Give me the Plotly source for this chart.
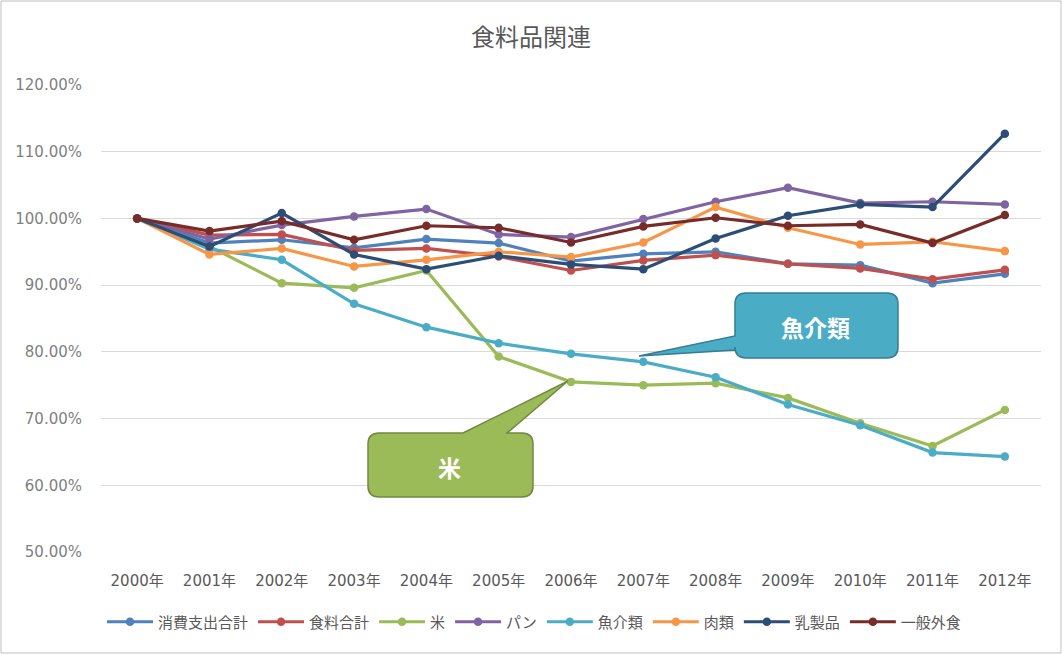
import plotly.graph_objects as go

years = ["2000年", "2001年", "2002年", "2003年", "2004年", "2005年", "2006年",
         "2007年", "2008年", "2009年", "2010年", "2011年", "2012年"]

shohi_total = [100, 96.3, 96.8, 95.6, 96.9, 96.3, 93.6, 94.7, 95.0, 93.2, 93.0, 90.3, 91.7]
food_total = [100, 97.5, 97.6, 95.2, 95.5, 94.3, 92.2, 93.7, 94.5, 93.2, 92.5, 90.9, 92.3]
rice = [100, 95.8, 90.3, 89.6, 92.2, 79.3, 75.5, 75.0, 75.3, 73.1, 69.3, 65.9, 71.3]
bread = [100, 96.9, 99.0, 100.3, 101.4, 97.6, 97.2, 99.9, 102.5, 104.6, 102.3, 102.5, 102.1]
fish = [100, 95.4, 93.8, 87.2, 83.7, 81.3, 79.7, 78.5, 76.2, 72.1, 69.0, 64.9, 64.3]
meat = [100, 94.6, 95.5, 92.8, 93.8, 95.0, 94.2, 96.4, 101.7, 98.6, 96.1, 96.5, 95.1]
dairy = [100, 95.8, 100.8, 94.6, 92.4, 94.4, 93.1, 92.4, 97.0, 100.4, 102.1, 101.7, 112.7]
eating_out = [100, 98.1, 99.6, 96.8, 98.9, 98.6, 96.4, 98.8, 100.1, 98.9, 99.1, 96.3, 100.5]

series_names = ["消費支出合計", "食料合計", "米", "パン", "魚介類", "肉類", "乳製品", "一般外食"]
series_values = [shohi_total, food_total, rice, bread, fish, meat, dairy, eating_out]
colors = ["#4F81BD", "#C0504D", "#9BBB59", "#8064A2", "#4BACC6", "#F79646", "#2C4D75", "#772C2A"]

FONT = "Noto Sans CJK JP"
TICKFONT = "DejaVu Sans, Noto Sans CJK JP"
W, H = 1062, 654
L, R, T, B = 101, 1041, 85, 552

fig = go.Figure()
for name, vals, col in zip(series_names, series_values, colors):
    fig.add_trace(go.Scatter(
        x=years, y=vals, name=name, mode="lines+markers",
        line=dict(color=col, width=3.2),
        marker=dict(color=col, size=8.5),
    ))


def px(x, y):
    return ((x - L) / (R - L), (B - y) / (B - T))


def P(x, y):
    a, b = px(x, y)
    return f"{a:.5f},{b:.5f}"


def rounded_callout(x0, y0, x1, y1, r, tail, side):
    s = "M" + P(x0 + r, y0)
    if side == "top":
        for t in tail:
            s += " L" + P(*t)
    s += " L" + P(x1 - r, y0) + " Q" + P(x1, y0) + " " + P(x1, y0 + r)
    s += " L" + P(x1, y1 - r) + " Q" + P(x1, y1) + " " + P(x1 - r, y1)
    s += " L" + P(x0 + r, y1) + " Q" + P(x0, y1) + " " + P(x0, y1 - r)
    if side == "left":
        for t in tail:
            s += " L" + P(*t)
    s += " L" + P(x0, y0 + r) + " Q" + P(x0, y0) + " " + P(x0 + r, y0) + " Z"
    return s


shapes = []
bx0, by0 = px(1, 1)
bx1, by1 = px(1061, 653)
shapes.append(dict(type="rect", xref="paper", yref="paper", x0=bx0, y0=by1, x1=bx1, y1=by0,
                   line=dict(color="#BFBFBF", width=1), fillcolor="rgba(0,0,0,0)", layer="below"))
shapes.append(dict(type="path", xref="paper", yref="paper",
                   path=rounded_callout(735, 293, 898, 358, 11,
                                        [(735, 350), (639, 356), (735, 336)], "left"),
                   fillcolor="#4BACC6", line=dict(color="#357D91", width=1.5)))
shapes.append(dict(type="path", xref="paper", yref="paper",
                   path=rounded_callout(368, 433, 533, 497, 11,
                                        [(463, 433), (568, 381), (507, 433)], "top"),
                   fillcolor="#9BBB59", line=dict(color="#71893F", width=1.5)))

annotations = []
fx, fy = px(815, 327)
annotations.append(dict(x=fx, y=fy, xref="paper", yref="paper", text="<b>魚介類</b>", showarrow=False,
                        xanchor="center", yanchor="middle",
                        font=dict(family=FONT, size=23, color="white")))
rx, ry = px(449, 467)
annotations.append(dict(x=rx, y=ry, xref="paper", yref="paper", text="<b>米</b>", showarrow=False,
                        xanchor="center", yanchor="middle",
                        font=dict(family=FONT, size=23, color="white")))

lx, ly = px(102, 622)

fig.update_layout(
    width=W, height=H,
    margin=dict(l=L, r=W - R, t=T, b=H - B),
    paper_bgcolor="white", plot_bgcolor="white",
    title=dict(text="食料品関連", x=531 / W, xanchor="center", y=1 - 38 / H, yanchor="middle",
               xref="container", yref="container",
               font=dict(family=FONT, size=24, color="#595959")),
    font=dict(family=FONT, color="#595959"),
    xaxis=dict(type="category", range=[-0.5, 12.5], showgrid=False, showline=False,
               ticks="", ticklabelstandoff=18,
               tickfont=dict(family=TICKFONT, size=15, color="#595959")),
    yaxis=dict(range=[50, 120], dtick=10, tickformat=".2f", ticksuffix="%",
               showgrid=True, gridcolor="#D9D9D9", gridwidth=1, zeroline=False,
               showline=False, ticks="", ticklabelstandoff=18,
               tickfont=dict(family=TICKFONT, size=15, color="#7F7F7F")),
    legend=dict(orientation="h", x=lx, y=ly, xanchor="left", yanchor="middle",
                font=dict(family=FONT, size=15, color="#595959"), itemwidth=46,
                bgcolor="rgba(0,0,0,0)"),
    shapes=shapes,
    annotations=annotations,
    showlegend=True,
)

fig.write_html("out.html", config={"displayModeBar": False},
               post_script="document.body.style.margin='0px';")
